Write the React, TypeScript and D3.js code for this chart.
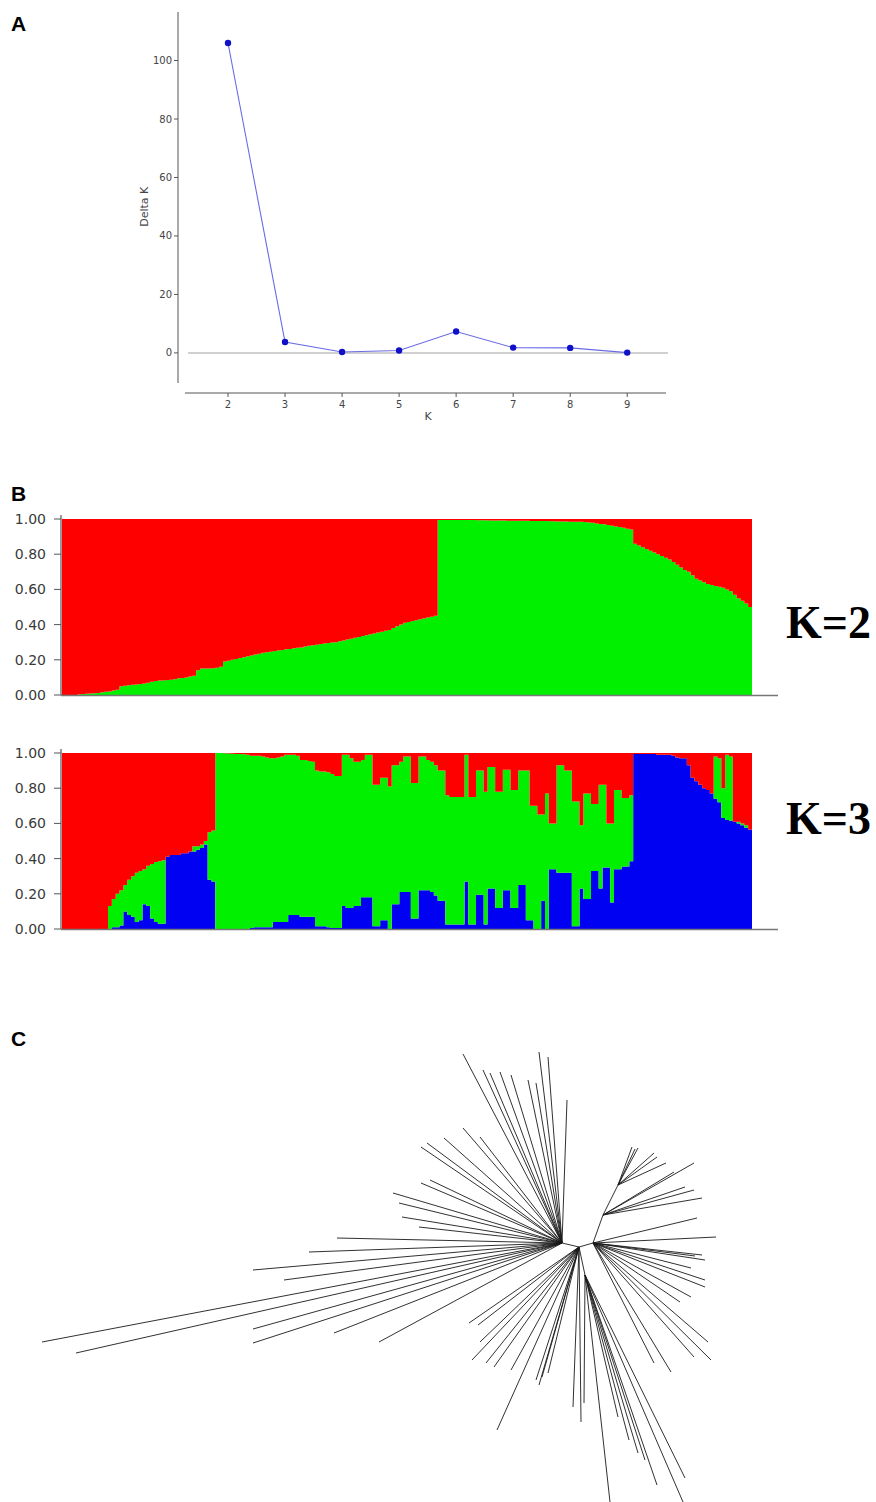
import React from "react";
import * as d3 from "d3";

// ---------- Panel A: Delta K ----------
const kValues = [2, 3, 4, 5, 6, 7, 8, 9];
const deltaK = [106, 3.7, 0.3, 0.8, 7.3, 1.8, 1.7, 0.1];
const deltaTicks = [0, 20, 40, 60, 80, 100];

// ---------- Panel B: STRUCTURE membership (180 individuals) ----------
const k2Green = [
  0, 0, 0, 0, 0.003, 0.005, 0.007, 0.008, 0.01, 0.012,
  0.015, 0.018, 0.02, 0.025, 0.03, 0.05, 0.052, 0.055, 0.058, 0.06,
  0.062, 0.065, 0.07, 0.075, 0.08, 0.082, 0.083, 0.085, 0.087, 0.09,
  0.095, 0.097, 0.1, 0.105, 0.11, 0.14, 0.15, 0.15, 0.15, 0.152,
  0.155, 0.16, 0.19, 0.195, 0.2, 0.205, 0.21, 0.215, 0.22, 0.225,
  0.23, 0.235, 0.24, 0.243, 0.246, 0.25, 0.253, 0.256, 0.26, 0.262,
  0.265, 0.268, 0.27, 0.275, 0.28, 0.283, 0.286, 0.29, 0.292, 0.295,
  0.298, 0.3, 0.305, 0.31, 0.315, 0.32, 0.325, 0.33, 0.335, 0.34,
  0.345, 0.35, 0.355, 0.36, 0.365, 0.37, 0.38, 0.39, 0.4, 0.41,
  0.415, 0.42, 0.425, 0.43, 0.435, 0.44, 0.445, 0.45, 0.995, 0.995,
  0.995, 0.995, 0.995, 0.995, 0.995, 0.994, 0.994, 0.994, 0.993, 0.993,
  0.993, 0.992, 0.992, 0.992, 0.991, 0.991, 0.99, 0.99, 0.99, 0.99,
  0.99, 0.99, 0.989, 0.989, 0.988, 0.988, 0.988, 0.987, 0.987, 0.986,
  0.986, 0.986, 0.985, 0.985, 0.985, 0.985, 0.983, 0.98, 0.978, 0.975,
  0.972, 0.97, 0.966, 0.962, 0.958, 0.954, 0.95, 0.945, 0.94, 0.86,
  0.85, 0.84, 0.83, 0.82, 0.81, 0.8, 0.79, 0.78, 0.77, 0.755,
  0.74, 0.725, 0.71, 0.7, 0.68, 0.66, 0.65, 0.64, 0.63, 0.625,
  0.62, 0.615, 0.61, 0.6, 0.59, 0.57, 0.55, 0.535, 0.52, 0.5,
];

const k3Blue = [
  0, 0, 0, 0, 0, 0, 0, 0, 0, 0,
  0, 0, 0, 0.01, 0.01, 0.02, 0.1, 0.08, 0.07, 0.04,
  0.05, 0.14, 0.13, 0.06, 0.04, 0.03, 0.03, 0.41, 0.42, 0.42,
  0.42, 0.43, 0.43, 0.44, 0.44, 0.45, 0.46, 0.48, 0.28, 0.27,
  0, 0, 0, 0, 0, 0, 0, 0, 0, 0.005,
  0.01, 0.01, 0.01, 0.01, 0.01, 0.04, 0.04, 0.04, 0.04, 0.08,
  0.08, 0.08, 0.07, 0.07, 0.07, 0.07, 0.015, 0.015, 0.015, 0.01,
  0.005, 0.005, 0.005, 0.13, 0.12, 0.12, 0.13, 0.13, 0.18, 0.18,
  0.18, 0.015, 0.015, 0.05, 0.05, 0, 0.14, 0.14, 0.21, 0.21,
  0.21, 0.06, 0.06, 0.22, 0.22, 0.22, 0.21, 0.19, 0.16, 0.16,
  0.025, 0.025, 0.025, 0.025, 0.025, 0.27, 0.025, 0.025, 0.195, 0.195,
  0.025, 0.23, 0.23, 0.12, 0.12, 0.22, 0.22, 0.12, 0.12, 0.25,
  0.25, 0.05, 0.05, 0, 0, 0.16, 0, 0.34, 0.34, 0.32,
  0.32, 0.32, 0.32, 0.015, 0.015, 0.23, 0.17, 0.17, 0.33, 0.33,
  0.23, 0.35, 0.35, 0.15, 0.34, 0.34, 0.355, 0.355, 0.385, 0.995,
  0.995, 0.995, 0.995, 0.995, 0.995, 0.99, 0.99, 0.99, 0.99, 0.985,
  0.975, 0.97, 0.97, 0.93, 0.86, 0.84, 0.82, 0.8, 0.79, 0.77,
  0.74, 0.72, 0.63, 0.62, 0.615, 0.61, 0.6, 0.59, 0.575, 0.565,
];

const k3Green = [
  0, 0, 0, 0, 0, 0, 0, 0, 0, 0,
  0, 0, 0.13, 0.16, 0.19, 0.2, 0.15, 0.2, 0.23, 0.28,
  0.28, 0.2, 0.23, 0.31, 0.34, 0.355, 0.36, 0, 0, 0,
  0, 0, 0, 0, 0.03, 0.02, 0.02, 0.02, 0.27, 0.29,
  1, 1, 0.998, 0.997, 0.996, 0.995, 0.995, 0.993, 0.99, 0.98,
  0.975, 0.975, 0.97, 0.965, 0.96, 0.93, 0.935, 0.94, 0.95, 0.91,
  0.91, 0.905, 0.89, 0.89, 0.885, 0.88, 0.885, 0.88, 0.88, 0.88,
  0.875, 0.865, 0.865, 0.86, 0.87, 0.85, 0.82, 0.82, 0.78, 0.81,
  0.81, 0.805, 0.805, 0.81, 0.81, 0.81, 0.79, 0.79, 0.74, 0.77,
  0.77, 0.77, 0.77, 0.76, 0.76, 0.74, 0.74, 0.74, 0.74, 0.74,
  0.735, 0.725, 0.725, 0.725, 0.725, 0.72, 0.725, 0.725, 0.705, 0.705,
  0.755, 0.69, 0.69, 0.66, 0.66, 0.685, 0.685, 0.67, 0.67, 0.65,
  0.65, 0.85, 0.65, 0.7, 0.65, 0.49, 0.77, 0.26, 0.26, 0.61,
  0.61, 0.58, 0.58, 0.71, 0.71, 0.36, 0.6, 0.6, 0.38, 0.38,
  0.59, 0.47, 0.25, 0.45, 0.45, 0.45, 0.39, 0.39, 0.375, 0,
  0, 0, 0, 0, 0, 0, 0, 0, 0, 0,
  0, 0, 0, 0, 0, 0, 0, 0, 0, 0,
  0.24, 0.25, 0.17, 0.37, 0.365, 0, 0.01, 0.01, 0.015, 0,
];

const qTicks = [0, 0.2, 0.4, 0.6, 0.8, 1.0];

// ---------- Panel C: unrooted tree (distance units) ----------
const treeHubs = [
  { id: "B", parent: null, u: 0.01, v: -0.02 },
  { id: "A", parent: "B", u: -0.16, v: 0.02 },
  { id: "C", parent: "B", u: 0.15, v: 0.02 },
  { id: "B1", parent: "B", u: 0.07, v: -0.3 },
  { id: "C1", parent: "C", u: 0.25, v: 0.3 },
  { id: "C2", parent: "C1", u: 0.4, v: 0.6 },
];

const treeLeaves: [string, number, number][] = [
  ["A", -1.15, 1.91], ["A", -0.95, 1.75], ["A", -0.88, 1.72], ["A", -0.78, 1.73],
  ["A", -0.67, 1.7], ["A", -0.5, 1.65], ["A", -0.42, 1.62], ["A", -0.39, 1.93],
  ["A", -0.3, 1.88], ["A", -0.11, 1.45],
  ["A", -1.57, 0.98], ["A", -1.51, 1.02], ["A", -1.34, 1.07], ["A", -1.15, 1.17],
  ["A", -0.98, 1.08], ["A", -1.48, 0.65], ["A", -1.57, 0.62], ["A", -1.85, 0.52],
  ["A", -1.79, 0.42], ["A", -1.76, 0.28], ["A", -1.59, 0.18], ["A", -2.41, 0.07],
  ["A", -2.69, -0.07], ["A", -3.25, -0.25], ["A", -2.94, -0.35], ["A", -5.36, -0.97],
  ["A", -5.02, -1.08], ["A", -3.25, -0.84], ["A", -3.25, -0.98], ["A", -2.44, -0.88],
  ["A", -1.99, -0.97],
  ["B", -1.09, -0.78], ["B", -1.0, -0.8], ["B", -0.98, -0.97], ["B", -1.06, -1.15],
  ["B", -0.92, -1.18], ["B", -0.84, -1.22], ["B", -0.67, -1.25], ["B", -0.42, -1.35],
  ["B", -0.36, -1.32], ["B", -0.39, -1.4], ["B", -0.3, -1.28], ["B", -0.81, -1.85],
  ["B", -0.05, -1.62], ["B", 0.03, -1.77],
  ["B1", 0.06, -1.58], ["B1", 0.32, -2.57], ["B1", 0.79, -2.4], ["B1", 0.6, -2.08],
  ["B1", 0.51, -1.95], ["B1", 0.4, -1.72], ["B1", 1.07, -2.33], ["B1", 1.05, -2.57],
  ["B1", 0.67, -2.15],
  ["C", 1.3, -0.97], ["C", 1.33, -1.15], ["C", 0.93, -1.27], ["C", 0.76, -1.18],
  ["C", 1.16, -1.12], ["C", 1.02, -0.57], ["C", 1.13, -0.52], ["C", 1.27, -0.42],
  ["C", 1.27, -0.35], ["C", 1.13, -0.23], ["C", 1.27, -0.15], ["C", 1.24, -0.1],
  ["C", 1.17, -0.11], ["C", 1.38, 0.08], ["C", 1.19, 0.27],
  ["C2", 0.54, 0.98], ["C2", 0.57, 0.96], ["C2", 0.6, 0.97], ["C2", 0.76, 0.92],
  ["C2", 0.79, 0.88], ["C2", 0.88, 0.82],
  ["C1", 1.16, 0.82], ["C1", 0.96, 0.73], ["C1", 1.07, 0.58], ["C1", 1.16, 0.55],
  ["C1", 1.24, 0.47],
];

const RED = "#ff0000";
const GREEN = "#00f000";
const BLUE = "#0000f2";

function StructurePlot({ top, bottom, layers, colors }: any) {
  const n = layers[0].length;
  const x = d3.scaleBand<number>().domain(d3.range(n)).range([62, 752]).padding(0);
  const y = d3.scaleLinear().domain([0, 1]).range([bottom, top]);
  const rows = d3.range(n).map((i) => {
    const r: any = { i };
    let s = 0;
    layers.forEach((arr: number[], k: number) => {
      r["k" + k] = arr[i];
      s += arr[i];
    });
    r["k" + layers.length] = Math.max(0, 1 - s);
    return r;
  });
  const keys = d3.range(layers.length + 1).map((k) => "k" + k);
  const stacked = d3.stack().keys(keys)(rows);
  const bw = x.bandwidth();
  // step area: each individual holds its value across its band; extra closing point at the end
  const area = d3
    .area<any>()
    .curve(d3.curveStepAfter)
    .x((d: any) => d.x)
    .y0((d: any) => y(d.y0))
    .y1((d: any) => y(d.y1));
  return (
    <g>
      {stacked.map((layer, li) => {
        const pts = layer.map((d, i) => ({ x: x(i)!, y0: d[0], y1: d[1] }));
        const last = layer[layer.length - 1];
        pts.push({ x: x(n - 1)! + bw, y0: last[0], y1: last[1] });
        return <path key={li} d={area(pts) || ""} fill={colors[li]} />;
      })}
      <line x1={61} x2={61} y1={top - 4} y2={bottom} stroke="#555" strokeWidth={1.2} />
      <line x1={61} x2={778} y1={bottom + 0.5} y2={bottom + 0.5} stroke="#777" strokeWidth={1.6} />
      {qTicks.map((t) => (
        <g key={t}>
          <line x1={54} x2={61} y1={y(t)} y2={y(t)} stroke="#555" strokeWidth={1} />
          <text
            x={46}
            y={y(t) + 5}
            textAnchor="end"
            fontFamily="DejaVu Sans"
            fontSize={14}
            fill="#3a3a3a"
          >
            {t.toFixed(2)}
          </text>
        </g>
      ))}
    </g>
  );
}

export default function App() {
  // Panel A scales
  const xa = d3.scaleLinear().domain([1.246, 9.68]).range([185, 666]);
  const ya = d3.scaleLinear().domain([-10.3, 116.6]).range([383, 12]);
  const line = d3
    .line<number>()
    .x((_, i) => xa(kValues[i]))
    .y((d) => ya(d));

  // Panel C scales
  const tx = d3.scaleLinear().domain([0, 1]).range([578, 678]);
  const ty = d3.scaleLinear().domain([0, 1]).range([1245, 1145]);
  const hubMap = new Map(treeHubs.map((h) => [h.id, h]));

  return (
    <svg
      width={876}
      height={1502}
      style={{ position: "absolute", left: 0, top: 0, background: "#fff" }}
    >
      <rect x={0} y={0} width={876} height={1502} fill="#fff" />
      {/* Panel labels */}
      <text x={11} y={31} fontFamily="Liberation Sans, Arial" fontWeight="bold" fontSize={21}>A</text>
      <text x={11} y={501} fontFamily="Liberation Sans, Arial" fontWeight="bold" fontSize={21}>B</text>
      <text x={11} y={1046} fontFamily="Liberation Sans, Arial" fontWeight="bold" fontSize={21}>C</text>

      {/* Panel A */}
      <g>
        <line x1={xa.range()[0] + 3} x2={xa.range()[1] + 2} y1={ya(0)} y2={ya(0)} stroke="#d0d0d0" strokeWidth={2} />
        <line x1={178} x2={178} y1={12} y2={383} stroke="#555" strokeWidth={1} />
        <line x1={185} x2={666} y1={393} y2={393} stroke="#555" strokeWidth={1} />
        {deltaTicks.map((t) => (
          <g key={t}>
            <line x1={174} x2={178} y1={ya(t)} y2={ya(t)} stroke="#555" />
            <text x={172} y={ya(t) + 3.5} textAnchor="end" fontFamily="DejaVu Sans" fontSize={10} fill="#444">
              {t}
            </text>
          </g>
        ))}
        {kValues.map((k) => (
          <g key={k}>
            <line x1={xa(k)} x2={xa(k)} y1={393} y2={397} stroke="#555" />
            <text x={xa(k)} y={408} textAnchor="middle" fontFamily="DejaVu Sans" fontSize={10} fill="#444">
              {k}
            </text>
          </g>
        ))}
        <text
          transform={`translate(148,${ya(50)}) rotate(-90)`}
          textAnchor="middle"
          fontFamily="DejaVu Sans"
          fontSize={11}
          fill="#444"
        >
          Delta K
        </text>
        <text x={428} y={420} textAnchor="middle" fontFamily="DejaVu Sans" fontSize={11} fill="#444">
          K
        </text>
        <path d={line(deltaK) || ""} fill="none" stroke="#6a6ae6" strokeWidth={1.1} />
        {deltaK.map((v, i) => (
          <circle key={i} cx={xa(kValues[i])} cy={ya(v)} r={3.2} fill="#1010c8" />
        ))}
      </g>

      {/* Panel B */}
      <StructurePlot top={519} bottom={695} layers={[k2Green]} colors={[GREEN, RED]} />
      <StructurePlot top={753} bottom={929} layers={[k3Blue, k3Green]} colors={[BLUE, GREEN, RED]} />
      <text x={786} y={638} fontFamily="Liberation Serif, Times New Roman" fontWeight="bold" fontSize={46}>K=2</text>
      <text x={786} y={834} fontFamily="Liberation Serif, Times New Roman" fontWeight="bold" fontSize={46}>K=3</text>

      {/* Panel C */}
      <g stroke="#1a1a1a" strokeWidth={0.9} fill="none">
        {treeHubs
          .filter((h) => h.parent)
          .map((h) => {
            const p = hubMap.get(h.parent as string)!;
            return <line key={h.id} x1={tx(p.u)} y1={ty(p.v)} x2={tx(h.u)} y2={ty(h.v)} />;
          })}
        {treeLeaves.map(([pid, u, v], i) => {
          const p = hubMap.get(pid)!;
          return <line key={i} x1={tx(p.u)} y1={ty(p.v)} x2={tx(u)} y2={ty(v)} />;
        })}
      </g>
    </svg>
  );
}
